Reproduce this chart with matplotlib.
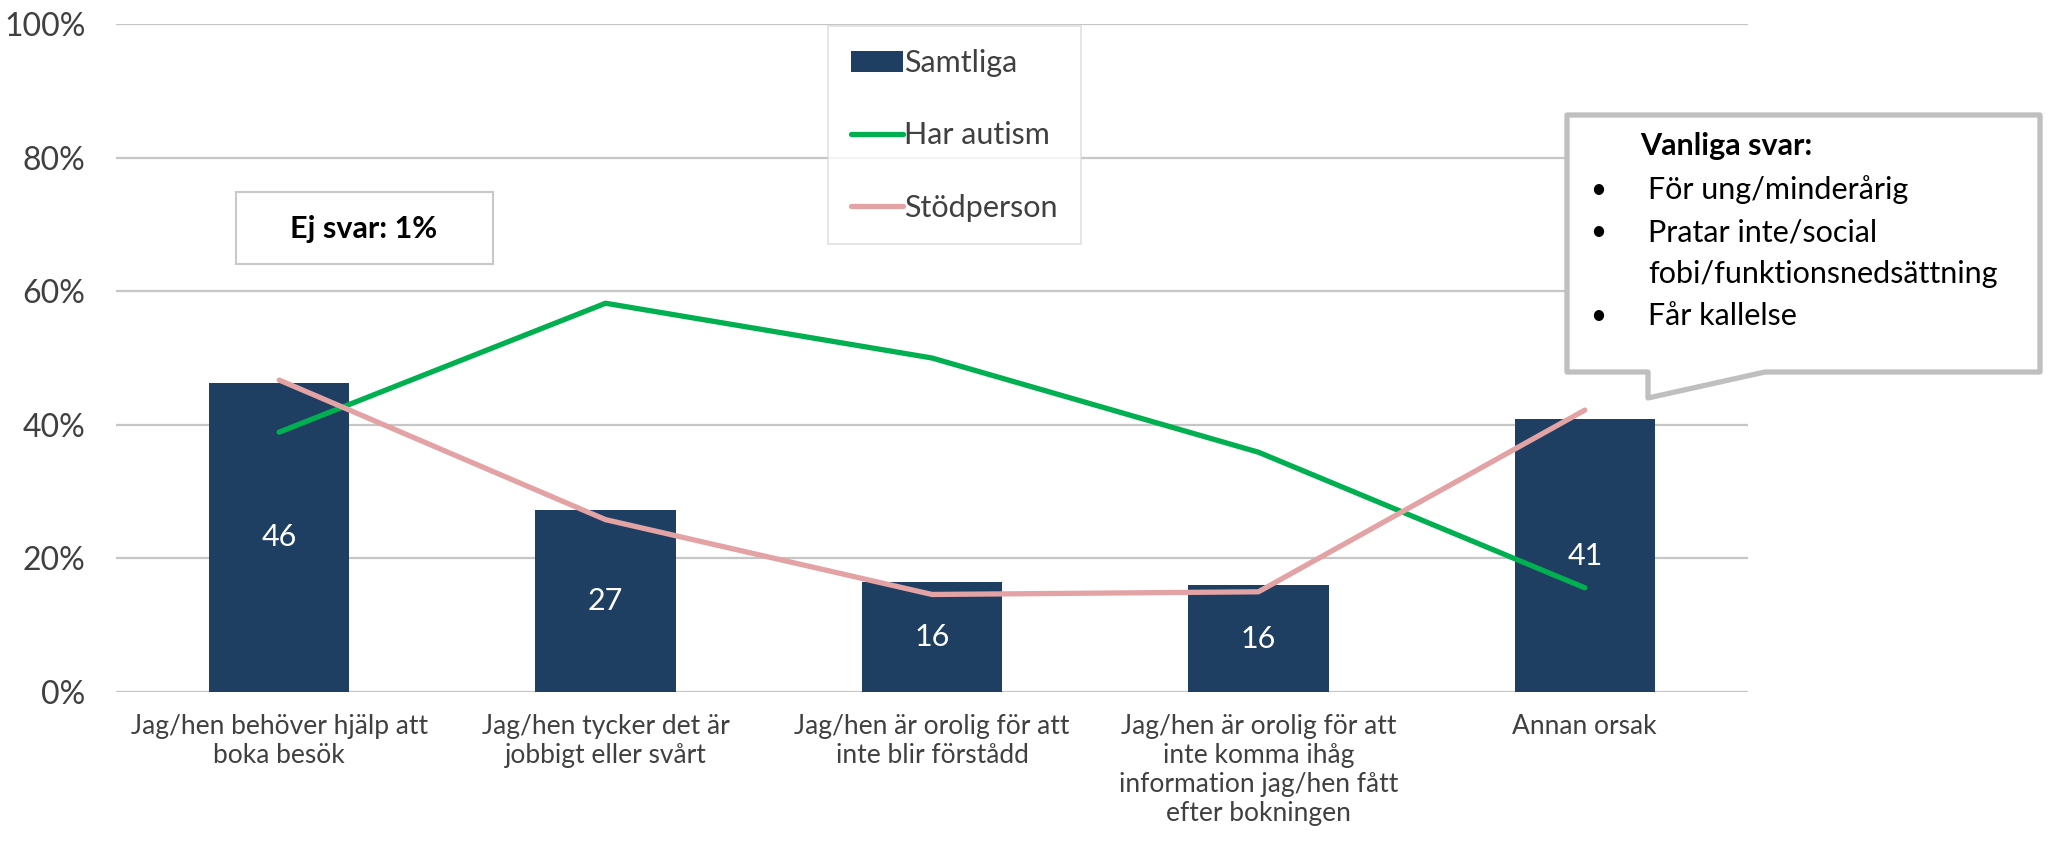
import matplotlib
matplotlib.use('Agg')
import matplotlib.pyplot as plt
from matplotlib.patches import Polygon, Rectangle
import numpy as np

plt.rcParams['font.family'] = ['Lato', 'DejaVu Sans']

# Data
categories = [
    'Jag/hen behöver hjälp att\nboka besök',
    'Jag/hen tycker det är\njobbigt eller svårt',
    'Jag/hen är orolig för att\ninte blir förstådd',
    'Jag/hen är orolig för att\ninte komma ihåg\ninformation jag/hen fått\nefter bokningen',
    'Annan orsak',
]
samtliga = [46.3, 27.3, 16.4, 16.0, 40.8]
samtliga_labels = ['46', '27', '16', '16', '41']
har_autism = [38.9, 58.2, 50.0, 35.9, 15.6]
stodperson = [46.7, 25.8, 14.6, 15.0, 42.2]
yticks = [0, 20, 40, 60, 80, 100]
callout_lines = ['För ung/minderårig', 'Pratar inte/social',
                 'fobi/funktionsnedsättning', 'Får kallelse']
callout_bullets = [True, True, False, True]

W, H = 2047, 847
def fx(x):
    return x / W
def fy(y):
    return 1 - y / H

bar_color = '#1F3F62'
green = '#00B050'
pink = '#E3A3A5'
grid_color = '#C6C6C6'
text_gray = '#404040'

fig = plt.figure(figsize=(20.47, 8.47), dpi=100)
ax = fig.add_axes([fx(116), fy(692), fx(1748) - fx(116), fy(24) - fy(692)])

x = np.arange(len(categories))
bars = ax.bar(x, samtliga, width=0.43, color=bar_color, zorder=2, label='Samtliga')
l1, = ax.plot(x, har_autism, color=green, lw=3.8, solid_capstyle='round', zorder=4, label='Har autism')
l2, = ax.plot(x, stodperson, color=pink, lw=3.8, solid_capstyle='round', zorder=4, label='Stödperson')

for xi, v, lab in zip(x, samtliga, samtliga_labels):
    ax.text(xi, v / 2, lab, ha='center', va='center', color='white', fontsize=22, zorder=3)

ax.set_xlim(-0.5, len(categories) - 0.5)
ax.set_ylim(0, 100)
ax.set_yticks(yticks)
ax.set_yticklabels([f'{t}%' for t in yticks])
ax.set_xticks(x)
ax.set_xticklabels(categories)
ax.tick_params(axis='y', length=0, pad=22, labelsize=23, labelcolor=text_gray)
ax.tick_params(axis='x', length=0, pad=16, labelsize=19, labelcolor=text_gray)
for s in ax.spines.values():
    s.set_visible(False)
ax.yaxis.grid(True, color=grid_color, lw=1.6, zorder=0)
ax.set_axisbelow(True)

leg = ax.legend([bars, l1, l2], ['Samtliga', 'Har autism', 'Stödperson'],
                loc='upper left', bbox_to_anchor=(fx(828), fy(26)), bbox_transform=fig.transFigure,
                borderaxespad=0, fontsize=22, frameon=True, fancybox=False,
                labelspacing=1.45, handlelength=1.7, handletextpad=0.05, borderpad=0.75)
leg.get_frame().set_edgecolor('#D9D9D9')
leg.get_frame().set_linewidth(1.2)
for t in leg.get_texts():
    t.set_color(text_gray)

# "Ej svar" box
fig.add_artist(Rectangle((fx(236), fy(264)), fx(493) - fx(236), fy(192) - fy(264),
                         transform=fig.transFigure, facecolor='white', edgecolor='#C8C8C8', lw=1.5))
fig.text(fx(364), fy(229), 'Ej svar: 1%', ha='center', va='center', fontsize=22,
         fontweight='bold', color='black')

# Callout
pts = [(1567, 115), (2040, 115), (2040, 372), (1765, 372), (1648, 398), (1648, 372), (1567, 372)]
fig.add_artist(Polygon([(fx(a), fy(b)) for a, b in pts], closed=True, transform=fig.transFigure,
                       facecolor='white', edgecolor='#BFBFBF', lw=3.8, joinstyle='round', zorder=5))
fig.text(fx(1640), fy(146), 'Vanliga svar:', ha='left', va='center', fontsize=22,
         fontweight='bold', color='black', zorder=6)
for i, (line, b) in enumerate(zip(callout_lines, callout_bullets)):
    yy = 190 + i * 42
    if b:
        fig.text(fx(1590), fy(yy), '•', ha='left', va='center', fontsize=20, color='black', zorder=6)
    fig.text(fx(1648), fy(yy), line, ha='left', va='center', fontsize=22, color='black', zorder=6)

fig.savefig('out.png', dpi=100)
